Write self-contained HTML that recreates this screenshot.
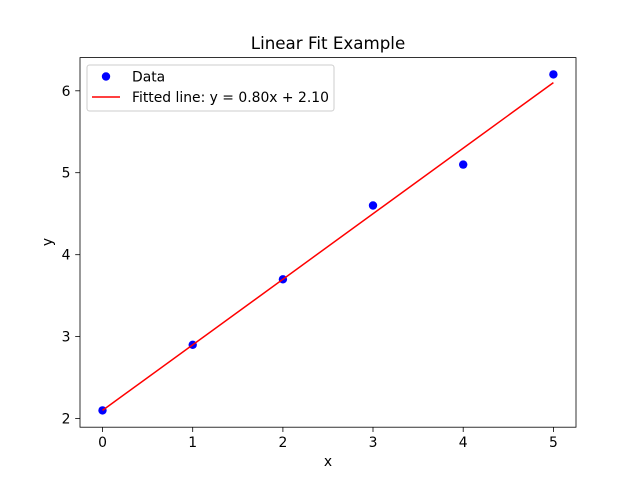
<!DOCTYPE html>
<html><head><meta charset="utf-8"><style>
html,body{margin:0;padding:0;background:#fff;}
svg{display:block;}
text{font-family:"DejaVu Sans","Liberation Sans",sans-serif;fill:#000;}
</style></head><body>
<svg width="640" height="480" viewBox="0 0 640 480" xmlns="http://www.w3.org/2000/svg">
<rect width="640" height="480" fill="#fff"/>
<!-- data -->
<g fill="#0000ff">
<circle cx="102.5" cy="410.4" r="4.2"/>
<circle cx="192.7" cy="344.8" r="4.2"/>
<circle cx="282.9" cy="279.3" r="4.2"/>
<circle cx="373.0" cy="205.5" r="4.2"/>
<circle cx="463.2" cy="164.6" r="4.2"/>
<circle cx="553.4" cy="74.4" r="4.2"/>
</g>
<!-- fitted line -->
<polyline points="102.5,410.4 553.4,82.6" stroke="#ff0000" stroke-width="1.5" fill="none"/>
<!-- axes frame -->
<rect x="80" y="57.6" width="496" height="369.6" fill="none" stroke="#000" stroke-width="0.8"/>
<!-- ticks -->
<g stroke="#000" stroke-width="0.8">
<line x1="102.5" y1="427.2" x2="102.5" y2="432"/>
<line x1="192.7" y1="427.2" x2="192.7" y2="432"/>
<line x1="282.9" y1="427.2" x2="282.9" y2="432"/>
<line x1="373.0" y1="427.2" x2="373.0" y2="432"/>
<line x1="463.2" y1="427.2" x2="463.2" y2="432"/>
<line x1="553.4" y1="427.2" x2="553.4" y2="432"/>
<line x1="80" y1="418.6" x2="75.2" y2="418.6"/>
<line x1="80" y1="336.6" x2="75.2" y2="336.6"/>
<line x1="80" y1="254.7" x2="75.2" y2="254.7"/>
<line x1="80" y1="172.7" x2="75.2" y2="172.7"/>
<line x1="80" y1="90.8" x2="75.2" y2="90.8"/>
</g>
<g font-size="13.9" text-anchor="middle">
<text x="102.5" y="447">0</text>
<text x="192.7" y="447">1</text>
<text x="282.9" y="447">2</text>
<text x="373.0" y="447">3</text>
<text x="463.2" y="447">4</text>
<text x="553.4" y="447">5</text>
</g>
<g font-size="13.9" text-anchor="end">
<text x="70.5" y="423.6">2</text>
<text x="70.5" y="341.6">3</text>
<text x="70.5" y="259.7">4</text>
<text x="70.5" y="177.7">5</text>
<text x="70.5" y="95.8">6</text>
</g>
<text x="328" y="466" font-size="13.9" text-anchor="middle">x</text>
<text x="0" y="0" font-size="13.9" text-anchor="middle" transform="translate(52,242) rotate(-90)">y</text>
<text x="328" y="49" font-size="16.7" text-anchor="middle">Linear Fit Example</text>
<!-- legend -->
<rect x="87" y="65" width="247" height="46" rx="2.5" fill="#fff" fill-opacity="0.8" stroke="#cccccc" stroke-width="1"/>
<circle cx="106" cy="76.5" r="4.2" fill="#0000ff"/>
<line x1="92" y1="97" x2="120" y2="97" stroke="#ff0000" stroke-width="1.5"/>
<text x="132" y="81.5" font-size="13.9">Data</text>
<text x="132" y="102" font-size="13.9">Fitted line: y = 0.80x + 2.10</text>
</svg>
</body></html>
